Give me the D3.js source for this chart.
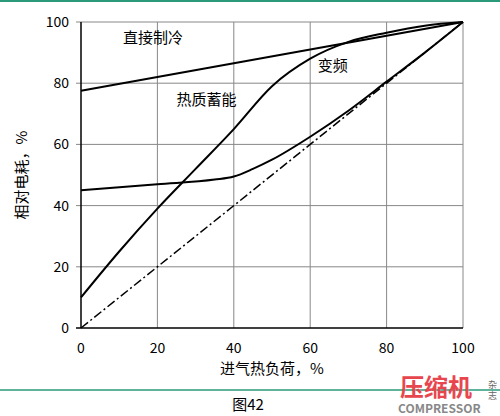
<!DOCTYPE html><html><head><meta charset="utf-8"><script src="https://cdn.jsdelivr.net/npm/d3@7"></script>
<style>body{margin:0;background:#fff}text{font-family:"Noto Sans CJK SC","Liberation Sans",sans-serif}</style></head><body><svg id="c" width="500" height="416"></svg><script>
const xTicks=[0,20,40,60,80,100], yTicks=[0,20,40,60,80,100];
const directX=[0,100], directY=[77.5,100];
const thermalX=[0,10,20,30,40,50,60,70,80,90,100], thermalY=[10,25,39,52,65,79,88,93.5,96.5,98.8,100];
const vfdX=[0,20,35,40,45,50,60,70,80,90,100], vfdY=[45,47,48.5,49.5,52,55,62.5,71,80.5,90,100];
const idealX=[0,100], idealY=[0,100];
const labels=[["直接制冷",11,93],["热质蓄能",25,73],["变频",62,84]];
const svg=d3.select("#c");
const x=d3.scaleLinear().domain([0,100]).range([81,463]);
const y=d3.scaleLinear().domain([0,100]).range([328,22]);
svg.append("line").attr("x1",0).attr("x2",500).attr("y1",1).attr("y2",1).attr("stroke","#2a9a7a").attr("stroke-width",2);
svg.append("line").attr("x1",0).attr("x2",500).attr("y1",390).attr("y2",390).attr("stroke","#2a9a7a").attr("stroke-width",1.5);
const g=svg.append("g");
xTicks.slice(1).forEach(t=>g.append("line").attr("x1",x(t)).attr("x2",x(t)).attr("y1",y(0)).attr("y2",y(100)).attr("stroke","#888"));
yTicks.slice(1).forEach(t=>g.append("line").attr("x1",x(0)-5).attr("x2",x(100)).attr("y1",y(t)).attr("y2",y(t)).attr("stroke","#888"));
g.append("line").attr("x1",x(0)).attr("x2",x(0)).attr("y1",y(0)).attr("y2",y(100)).attr("stroke","#000").attr("stroke-width",1.5);
g.append("line").attr("x1",x(0)-5).attr("x2",x(100)).attr("y1",y(0)).attr("y2",y(0)).attr("stroke","#000").attr("stroke-width",1.5);
xTicks.forEach(t=>g.append("text").attr("x",x(t)).attr("y",353).attr("text-anchor","middle").attr("font-size",14).text(t));
yTicks.forEach(t=>g.append("text").attr("x",x(0)-12).attr("y",y(t)+5).attr("text-anchor","end").attr("font-size",14).text(t));
const line=d3.line().x(d=>x(d[0])).y(d=>y(d[1]));
const lin=d3.line().x(d=>x(d[0])).y(d=>y(d[1])).curve(d3.curveMonotoneX);
const zip=(a,b)=>a.map((v,i)=>[v,b[i]]);
g.append("path").attr("d",line(zip(directX,directY))).attr("fill","none").attr("stroke","#000").attr("stroke-width",2);
g.append("path").attr("d",lin(zip(thermalX,thermalY))).attr("fill","none").attr("stroke","#000").attr("stroke-width",2);
g.append("path").attr("d",lin(zip(vfdX,vfdY))).attr("fill","none").attr("stroke","#000").attr("stroke-width",2);
g.append("path").attr("d",line(zip(idealX,idealY))).attr("fill","none").attr("stroke","#000").attr("stroke-width",1.5).attr("stroke-dasharray","9,3,2,3");
labels.forEach(l=>g.append("text").attr("x",x(l[1])).attr("y",y(l[2])).attr("font-size",15).text(l[0]));
svg.append("text").attr("x",272).attr("y",374).attr("text-anchor","middle").attr("font-size",15).text("进气热负荷，%");
svg.append("text").attr("transform","translate(27,175) rotate(-90)").attr("text-anchor","middle").attr("font-size",15).text("相对电耗，%");
svg.append("text").attr("x",248).attr("y",410).attr("text-anchor","middle").attr("font-size",15).text("图42");
svg.append("text").attr("x",400).attr("y",396).attr("font-size",24).attr("font-weight","bold").attr("fill","#e8464e").text("压缩机");
svg.append("text").attr("x",488).attr("y",388).attr("font-size",9).attr("fill","#666").text("杂");
svg.append("text").attr("x",488).attr("y",399).attr("font-size",9).attr("fill","#666").text("志");
svg.append("text").attr("x",398).attr("y",413).attr("font-size",12).attr("font-weight","bold").attr("fill","#888").attr("font-family","Liberation Sans").text("COMPRESSOR");
</script></body></html>
